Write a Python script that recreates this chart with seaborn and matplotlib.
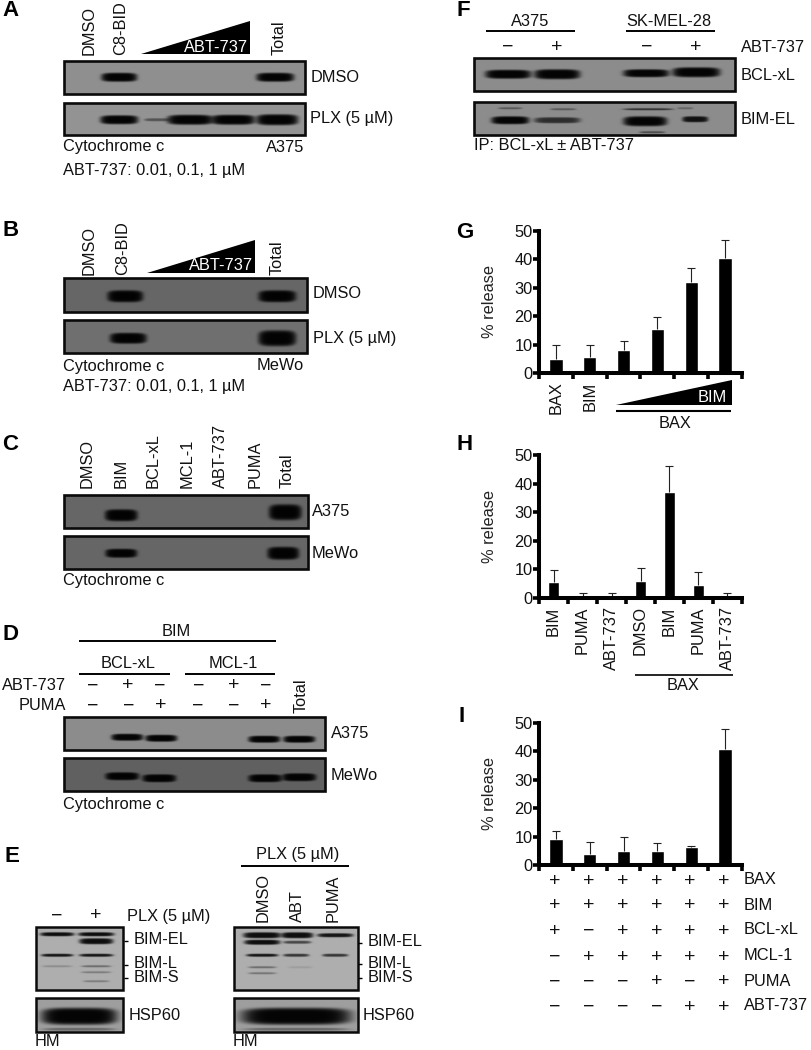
import numpy as np
import matplotlib
matplotlib.use("Agg")
import matplotlib.pyplot as plt
import seaborn as sns
from matplotlib.patches import Polygon, Rectangle

# --- bar chart values ---
g_labels = ["BAX", "BIM", "BIM low", "BIM mid", "BIM high", "BIM top"]
g_values = [5.0, 5.5, 8.0, 15.5, 32.0, 40.5]
g_errors = [5.0, 4.5, 3.3, 4.3, 5.0, 6.3]
g_ticks = ["BAX", "BIM", "", "", "", ""]

h_labels = ["BIM", "PUMA", "ABT-737", "BAX DMSO", "BAX BIM", "BAX PUMA", "BAX ABT-737"]
h_values = [5.5, 0.7, 0.7, 5.8, 37.0, 4.5, 0.7]
h_errors = [4.2, 1.2, 1.2, 4.7, 9.0, 4.7, 1.2]
h_ticks = ["BIM", "PUMA", "ABT-737", "DMSO", "BIM", "PUMA", "ABT-737"]

i_labels = ["c1", "c2", "c3", "c4", "c5", "c6"]
i_values = [9.0, 4.0, 5.0, 5.0, 6.5, 41.0]
i_errors = [3.0, 4.0, 5.0, 2.8, 0.3, 7.0]
i_rows = ["BAX", "BIM", "BCL-xL", "MCL-1", "PUMA", "ABT-737"]
i_bax = "++++++"
i_bim = "++++++"
i_bcl = "+-++++"
i_mcl = "-+++++"
i_puma = "---+-+"
i_abt = "----++"

# --- blot band strength per lane ---
a_dmso = [1.0, 1.0]
a_plx = [1.0, 0.45, 1.0, 1.0, 1.0]
b_dmso = [1.0, 1.0]
b_plx = [1.0, 1.0]
c_a375 = [1.0, 1.0]
c_mewo = [1.0, 1.0]
d_a375 = [1.0, 1.0, 1.0, 1.0]
d_mewo = [1.0, 1.0, 1.0, 1.0]
f_bcl = [1.0, 1.0, 1.0, 1.0]
f_bim = [1.0, 0.7, 1.0, 0.9]
f_upper = [0.4, 0.4, 0.7, 0.3]

d_abt = "-+--+-"
d_puma = "--+--+"

FS = 11.8
sns.set_theme(style="ticks")
plt.rcParams["font.family"] = ["Liberation Sans", "DejaVu Sans"]
plt.rcParams["font.size"] = FS

W, H = 811, 1050
fig = plt.figure(figsize=(W / 100, H / 100), dpi=100, facecolor="white")
ov = fig.add_axes([0, 0, 1, 1])
ov.set_xlim(0, W)
ov.set_ylim(H, 0)
ov.axis("off")


def T(x, y, s, ha="left", va="center", **kw):
    kw.setdefault("fontsize", FS)
    kw.setdefault("color", "#111111")
    ov.text(x, y, s, ha=ha, va=va, **kw)


def V(x, y, s, **kw):
    # rotated lane label, y is the bottom end of the text
    T(x + 1, y, s, ha="center", va="bottom", rotation=90, **kw)


def letter(x, y, s):
    T(x, y, s, fontsize=16, fontweight="bold", color="black")


def hline(x0, x1, y, lw=1.4):
    ov.plot([x0, x1], [y, y], color="black", lw=lw, solid_capstyle="butt")


def wedge(x0, x1, y0, y1):
    ov.add_patch(Polygon([(x0, y0), (x1, y0), (x1, y1)], closed=True, color="black", lw=0))


def blot(x0, y0, x1, y1, bg, layers, lw=1.9):
    # layers: (signal, xs, y, w, h), rounded bands with a soft edge on grey film
    xx, yy = np.meshgrid(np.arange(x0, x1, 0.5), np.arange(y0, y1, 0.5))
    img = np.full(xx.shape, float(bg))
    for signal, xs, y, w, h in layers:
        ys, ws, hs = [np.broadcast_to(v, (len(xs),)) for v in (y, w, h)]
        for s, cx, cy, bw, bh in zip(signal, xs, ys, ws, hs):
            r = np.abs((xx - cx) / (bw / 2)) ** 4 + np.abs((yy - cy) / (bh / 2)) ** 3.5
            m = np.exp(-r ** 2)
            img = img * (1 - 0.97 * s * m)
    ov.imshow(img, extent=(x0, x1, y1, y0), cmap="gray", vmin=0, vmax=1,
              aspect="auto", interpolation="bilinear", zorder=1)
    ov.add_patch(Rectangle((x0, y0), x1 - x0, y1 - y0, fill=False, ec="#0a0a0a", lw=lw, zorder=2))
    ov.set_xlim(0, W)
    ov.set_ylim(H, 0)


def signs(xs, y, row):
    for x, c in zip(xs, row):
        T(x, y, "+" if c == "+" else "\u2212", ha="center", fontsize=14)


def bars(top, bottom, labels, values, errors, ticks=None):
    ax = fig.add_axes([539 / W, 1 - bottom / H, 203 / W, (bottom - top) / H])
    ax.patch.set_alpha(0)
    sns.barplot(x=labels, y=values, color="black", saturation=1, width=0.39,
                errorbar=None, ax=ax)
    n = len(labels)
    eb = ax.errorbar(np.arange(n), values, yerr=[np.zeros(n), errors], fmt="none",
                     ecolor="#222222", elinewidth=0.8, capsize=2.6, capthick=0.8)
    eb[1][0].set_visible(False)  # no cap on the lower side
    ax.set_xlim(-0.5, n - 0.5)
    ax.set_ylim(0, 50)
    ax.set_yticks(range(0, 51, 10))
    ax.set_xticks(np.arange(n + 1) - 0.5)
    ax.set_xticklabels([])
    ax.set_xticks(np.arange(n), minor=True)
    if ticks:
        ax.set_xticklabels(ticks, minor=True, rotation=90, fontsize=FS, color="#111111")
    else:
        ax.set_xticklabels([""] * n, minor=True)
    ax.tick_params(axis="x", which="minor", length=0, pad=6)
    ax.tick_params(axis="both", which="major", length=4, width=2.6, color="black")
    ax.tick_params(axis="y", labelsize=FS, pad=0.5, labelcolor="#111111")
    ax.set_xlabel("")
    ax.set_ylabel("% release", fontsize=FS, color="#222222")
    ax.yaxis.set_label_coords(-0.205, 0.5)
    sns.despine(ax=ax)
    for side in ("left", "bottom"):
        ax.spines[side].set_linewidth(2.9)
        ax.spines[side].set_color("black")
    return ax


# --- A ---
letter(2, 11, "A")
V(88, 55, "DMSO")
V(120, 55, "C8-BID")
V(278, 55, "Total")
wedge(141, 250, 54, 21)
T(248, 47, "ABT-737", ha="right", color="white")
blot(64, 61, 305, 94, 0.56, [(a_dmso, [119, 275], 77, [36, 38], 9)])
blot(64, 103, 305, 135, 0.58, [(a_plx, [119, 157, 190, 233, 277], 119.5, [38, 26, 46, 44, 42], [9, 3, 10, 10, 11])])
T(311, 78, "DMSO")
T(310, 119, "PLX (5 µM)")
T(63, 147, "Cytochrome c")
T(304, 147, "A375", ha="right")
T(63, 170, "ABT-737: 0.01, 0.1, 1 µM")

# --- B ---
letter(3, 231, "B")
V(88, 275, "DMSO")
V(122, 275, "C8-BID")
V(276, 275, "Total")
wedge(147, 255, 273, 240)
T(253, 266, "ABT-737", ha="right", color="white")
blot(64, 278, 307, 312, 0.40, [(b_dmso, [125, 277], 296, [36, 38], 12)])
blot(64, 320, 307, 353, 0.44, [(b_plx, [128, 277], 338, [37, 38], [11, 16])])
T(313, 294, "DMSO")
T(313, 338, "PLX (5 µM)")
T(63, 366, "Cytochrome c")
T(304, 366, "MeWo", ha="right")
T(63, 387, "ABT-737: 0.01, 0.1, 1 µM")

# --- C ---
letter(2, 445, "C")
for x, s in zip([86, 120, 152, 186, 219, 254, 286],
                ["DMSO", "BIM", "BCL-xL", "MCL-1", "ABT-737", "PUMA", "Total"]):
    V(x, 488, s)
blot(64, 495, 308, 528, 0.40, [(c_a375, [121, 285], [515, 512], 33, [12, 16])])
blot(64, 536, 308, 569, 0.40, [(c_mewo, [121, 283], [553, 553], 32, [9, 13])])
T(312, 512, "A375")
T(312, 553, "MeWo")
T(63, 581, "Cytochrome c")

# --- D ---
letter(2, 634, "D")
T(176, 632, "BIM", ha="center")
hline(79, 276, 641)
T(128, 664, "BCL-xL", ha="center")
T(233, 664, "MCL-1", ha="center")
hline(79, 170, 674)
hline(185, 275, 674)
T(66, 686, "ABT-737", ha="right")
T(66, 706, "PUMA", ha="right")
signs([93, 128, 160, 199, 234, 266], 686, d_abt)
signs([93, 129, 161, 198, 234, 266], 706, d_puma)
V(300, 713, "Total")
blot(64, 717, 325, 750, 0.55, [(d_a375, [127, 161, 264, 299], [737, 738, 739, 739], 32, 7)])
blot(64, 758, 325, 791, 0.38, [(d_mewo, [122, 159, 265, 299], [776, 778, 778, 777], 34, 8)])
T(331, 734, "A375")
T(331, 775, "MeWo")
T(63, 804, "Cytochrome c")

# --- E ---
letter(5, 857, "E")
signs([57, 96], 916, "-+")
T(127, 916, "PLX (5 µM)")
blot(36, 927, 123, 990, 0.68, [
    ([0.95, 0.95], [57, 96], 934, [34, 36], 4),
    ([0.95], [96], 941, 34, 6),
    ([0.9, 0.9], [57, 96], 955, [32, 34], 3),
    ([0.2, 0.4], [57, 96], 966, 30, 2),
    ([0.3], [96], 972, 30, 2),
    ([0.3], [96], 981, 26, 2),
], lw=1.8)
blot(36, 998, 123, 1032, 0.62, [([1.0], [79], 1016, 76, 17), ([0.35], [79], 1029, 72, 3)], lw=1.8)
for y in (941, 965, 978):
    hline(124, 128, y, 1)
T(134, 940, "BIM-EL")
T(134, 964, "BIM-L")
T(134, 977, "BIM-S")
T(129, 1015, "HSP60")
T(35, 1042, "HM")

T(298, 855, "PLX (5 µM)", ha="center")
hline(241, 349, 866)
V(262, 922, "DMSO")
V(296, 922, "ABT")
V(332, 922, "PUMA")
blot(234, 927, 358, 990, 0.68, [
    ([0.95, 0.95, 0.9], [262, 297, 335], 935, [38, 32, 36], [6, 6, 4]),
    ([0.95, 0.6], [262, 297], 942, [36, 28], [5, 3]),
    ([0.9, 0.7, 0.7], [262, 296, 335], 955, [32, 26, 26], 3),
    ([0.4, 0.1], [262, 300], 967, [28, 24], 2),
    ([0.35], [262], 973, 28, 2),
], lw=1.8)
blot(234, 998, 358, 1032, 0.62, [([1.0], [296], 1016, 110, 17), ([0.35], [296], 1029, 104, 3)], lw=1.8)
for y in (943, 964, 978):
    hline(358, 362, y, 1)
T(368, 942, "BIM-EL")
T(368, 964, "BIM-L")
T(368, 977, "BIM-S")
T(363, 1015, "HSP60")
T(233, 1042, "HM")

# --- F ---
letter(456, 11, "F")
T(530, 21, "A375", ha="center")
hline(486, 575, 31)
T(669, 21, "SK-MEL-28", ha="center")
hline(626, 715, 31)
signs([508, 557, 647, 696], 47, "-+-+")
T(741, 48, "ABT-737")
blot(474, 58, 735, 91, 0.55, [(f_bcl, [508, 557, 646, 696], [74, 74, 73, 72], [46, 46, 46, 48], [9, 10, 8, 10])])
blot(474, 102, 735, 135, 0.55, [
    (f_bim, [510, 557, 645, 695], [120, 120, 121, 119], [38, 46, 44, 26], [8, 6, 10, 6]),
    (f_upper, [510, 563, 648, 685], [108, 109, 109, 108], [24, 26, 50, 16], 2),
    ([0.5], [652], 132, 26, 2),
])
T(741, 75, "BCL-xL")
T(741, 119, "BIM-EL")
T(474, 146, "IP: BCL-xL ± ABT-737")

# --- G, H, I ---
letter(456, 232, "G")
bars(231, 373, g_labels, g_values, g_errors, g_ticks)
wedge(616, 732, 405, 380)
T(727, 397, "BIM", ha="right", color="white")
hline(616, 731, 411, 1.5)
T(675, 424, "BAX", ha="center")

letter(456, 445, "H")
bars(455, 598, h_labels, h_values, h_errors, h_ticks)
hline(635, 733, 675, 1.2)
T(683, 686, "BAX", ha="center")

letter(458, 717, "I")
bars(723, 865, i_labels, i_values, i_errors)
rows_x = [555, 589, 623, 657, 690, 724]
for y, name, row in zip([881, 906, 931, 957, 982, 1007], i_rows,
                        [i_bax, i_bim, i_bcl, i_mcl, i_puma, i_abt]):
    signs(rows_x, y, row)
    T(744, y - 1, name)

fig.savefig("out.png", dpi=100, facecolor="white")
